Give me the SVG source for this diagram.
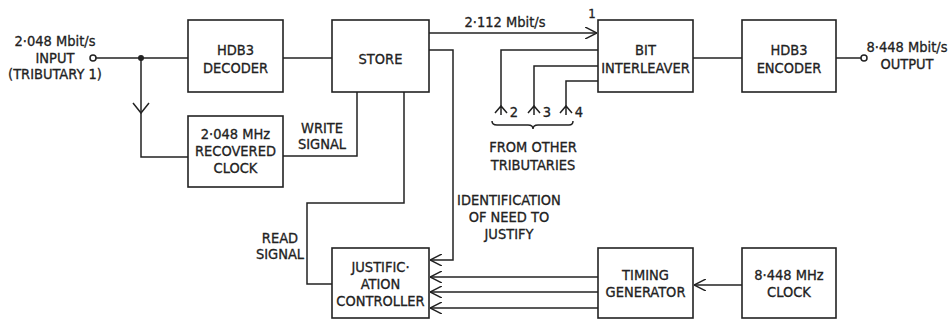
<svg xmlns="http://www.w3.org/2000/svg" width="950" height="321" viewBox="0 0 950 321">
<defs>
<style>
.box{fill:#fff;stroke:#222;stroke-width:1.6}
.ln{fill:none;stroke:#222;stroke-width:1.5}
text{font-family:"DejaVu Sans Condensed","Liberation Sans Narrow","Liberation Sans",sans-serif;font-size:14.5px;fill:#222;stroke:#222;stroke-width:0.3;text-anchor:middle}
.s{font-size:13px}
</style>
<marker id="a" viewBox="0 0 12 12" refX="12" refY="6" markerWidth="12" markerHeight="12" markerUnits="userSpaceOnUse" orient="auto">
<path d="M0,0 L12,6 L0,12" fill="none" stroke="#222" stroke-width="1.5"/>
</marker>
</defs>
<g id="connectors">
<circle cx="93" cy="58" r="3" fill="#fff" stroke="#222" stroke-width="1.5"/>
<line class="ln" x1="96" y1="58" x2="188" y2="58"/>
<circle cx="141" cy="58" r="3" fill="#222"/>
<path class="ln" d="M141,58 V157 H188"/>
<path class="ln" d="M133,103 L141,113 L149,103"/>
<line class="ln" x1="283" y1="58" x2="332" y2="58"/>
<path class="ln" d="M357,92 V156 H283"/>
<path class="ln" d="M404,92 V203 H307 V284 H332"/>
<path class="ln" d="M429,50 H453 V260 H430" marker-end="url(#a)"/>
<line class="ln" x1="429" y1="33" x2="597" y2="33" marker-end="url(#a)"/>
<path class="ln" d="M598,50 H501 V106" />
<path class="ln" d="M598,66 H534 V106" />
<path class="ln" d="M598,81 H566 V106" />
<path class="ln" d="M495,113 L501,106 L507,113 M528,113 L534,106 L540,113 M560,113 L566,106 L572,113"/>
<path class="ln" d="M501,106 V115 M534,106 V115 M566,106 V115"/>
<path class="ln" d="M492,121 Q492,125 497,125 H528 Q533,125 533,129 Q533,125 538,125 H569 Q573,125 573,121"/>
<line class="ln" x1="598" y1="277" x2="430" y2="277" marker-end="url(#a)"/>
<line class="ln" x1="598" y1="292" x2="430" y2="292" marker-end="url(#a)"/>
<line class="ln" x1="598" y1="308" x2="430" y2="308" marker-end="url(#a)"/>
<line class="ln" x1="742" y1="285" x2="694" y2="285" marker-end="url(#a)"/>
<line class="ln" x1="693" y1="58" x2="742" y2="58"/>
<line class="ln" x1="836" y1="58" x2="861" y2="58"/>
<circle cx="864" cy="58" r="3" fill="#fff" stroke="#222" stroke-width="1.5"/>
</g>
<g id="labels">
<text x="55" y="46">2·048 Mbit/s</text>
<text x="55" y="63">INPUT</text>
<text x="55" y="79">(TRIBUTARY 1)</text>
<text x="505" y="27">2·112 Mbit/s</text>
<text x="592" y="18" class="s">1</text>
<text x="322" y="133">WRITE</text>
<text x="322" y="149">SIGNAL</text>
<text x="280" y="243">READ</text>
<text x="280" y="259">SIGNAL</text>
<text x="514" y="117">2</text>
<text x="547" y="117">3</text>
<text x="579" y="117">4</text>
<text x="533" y="152">FROM OTHER</text>
<text x="533" y="170">TRIBUTARIES</text>
<text x="509" y="205">IDENTIFICATION</text>
<text x="509" y="222">OF NEED TO</text>
<text x="509" y="239">JUSTIFY</text>
<text x="907" y="52">8·448 Mbit/s</text>
<text x="907" y="69">OUTPUT</text>
</g>
<g id="decoder"><rect class="box" x="188" y="20" width="95" height="72"/><text x="235.5" y="55">HDB3</text><text x="235.5" y="73">DECODER</text></g>
<g id="clock-rec"><rect class="box" x="188" y="116" width="95" height="71"/><text x="235.5" y="139">2·048 MHz</text><text x="235.5" y="156">RECOVERED</text><text x="235.5" y="173">CLOCK</text></g>
<g id="store"><rect class="box" x="332" y="20" width="97" height="72"/><text x="380.5" y="64">STORE</text></g>
<g id="interleaver"><rect class="box" x="598" y="20" width="95" height="72"/><text x="645.5" y="55">BIT</text><text x="645.5" y="73">INTERLEAVER</text></g>
<g id="encoder"><rect class="box" x="742" y="20" width="94" height="72"/><text x="789" y="55">HDB3</text><text x="789" y="73">ENCODER</text></g>
<g id="justification"><rect class="box" x="332" y="248" width="97" height="70"/><text x="380.5" y="272">JUSTIFIC·</text><text x="380.5" y="289">ATION</text><text x="380.5" y="306">CONTROLLER</text></g>
<g id="timing"><rect class="box" x="598" y="248" width="95" height="70"/><text x="645.5" y="280">TIMING</text><text x="645.5" y="297">GENERATOR</text></g>
<g id="clock"><rect class="box" x="742" y="248" width="94" height="70"/><text x="789" y="280">8·448 MHz</text><text x="789" y="297">CLOCK</text></g>
</svg>
